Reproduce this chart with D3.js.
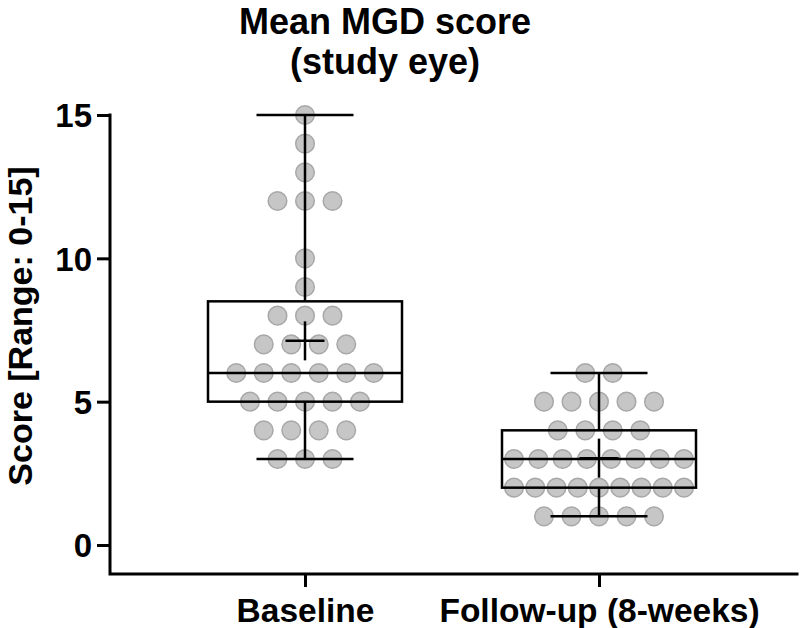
<!DOCTYPE html>
<html>
<head>
<meta charset="utf-8">
<script src="https://cdn.jsdelivr.net/npm/d3@7"></script>
<style>
  html, body { margin: 0; padding: 0; background: #fff; }
  svg text { font-family: "Liberation Sans", Arial, Helvetica, sans-serif; font-weight: bold; fill: #000; }
</style>
</head>
<body>
<svg id="chart" width="800" height="628"></svg>
<script>
// ---- data ----
const categories = ["Baseline", "Follow-up (8-weeks)"];
const baselineScores = [15, 14, 13, 12, 12, 12, 10, 9, 8, 8, 8, 7, 7, 7, 7,
                        6, 6, 6, 6, 6, 6, 5, 5, 5, 5, 5, 4, 4, 4, 4, 3, 3, 3];
const followupScores = [6, 6, 5, 5, 5, 5, 5, 4, 4, 4, 4, 3, 3, 3, 3, 3, 3, 3, 3,
                        2, 2, 2, 2, 2, 2, 2, 2, 2, 1, 1, 1, 1, 1];
const boxQ1 = [5, 2];
const boxMedian = [6, 3];
const boxQ3 = [8.5, 4];
const whiskerMin = [3, 1];
const whiskerMax = [15, 6];
const yTicks = [0, 5, 10, 15];
const titleLines = ["Mean MGD score", "(study eye)"];
const yLabel = "Score [Range: 0-15]";

const groups = [baselineScores, followupScores];

// ---- layout ----
const svg = d3.select("#chart");
const axisLeftX = 110, axisBottomY = 574, axisRightX = 797;

const y = d3.scaleLinear().domain([0, 15]).range([545, 115]);
const x = d3.scalePoint().domain(categories).range([305, 599]);

const boxHalf = 97, capHalf = 48.5, plusHalf = 19.5;
const dotR = 9.3, dotStep = 27.5, maxRowSpan = 170;

// ---- dots ----
const dots = [];
groups.forEach((vals, gi) => {
  const rows = d3.group(vals, v => v);
  rows.forEach((arr, v) => {
    const n = arr.length;
    const s = n > 1 ? Math.min(dotStep, maxRowSpan / (n - 1)) : 0;
    arr.forEach((_, i) => dots.push({ cat: categories[gi], v, off: (i - (n - 1) / 2) * s }));
  });
});

svg.append("g").selectAll("circle").data(dots).join("circle")
  .attr("cx", d => x(d.cat) + d.off)
  .attr("cy", d => y(d.v))
  .attr("r", dotR)
  .attr("fill", "#c6c6c6")
  .attr("stroke", "#a8a8a8")
  .attr("stroke-width", 1.5);

// ---- box plots ----
const gBox = svg.append("g").attr("stroke", "#000").attr("fill", "none").attr("stroke-width", 2.5);
categories.forEach((c, i) => {
  const cx = x(c);
  gBox.append("rect")
    .attr("x", cx - boxHalf).attr("y", y(boxQ3[i]))
    .attr("width", 2 * boxHalf).attr("height", y(boxQ1[i]) - y(boxQ3[i]));
  gBox.append("line").attr("x1", cx - boxHalf).attr("x2", cx + boxHalf)
    .attr("y1", y(boxMedian[i])).attr("y2", y(boxMedian[i]));
  // whiskers
  gBox.append("line").attr("x1", cx).attr("x2", cx).attr("y1", y(boxQ3[i])).attr("y2", y(whiskerMax[i]));
  gBox.append("line").attr("x1", cx).attr("x2", cx).attr("y1", y(boxQ1[i])).attr("y2", y(whiskerMin[i]));
  gBox.append("line").attr("x1", cx - capHalf).attr("x2", cx + capHalf).attr("y1", y(whiskerMax[i])).attr("y2", y(whiskerMax[i]));
  gBox.append("line").attr("x1", cx - capHalf).attr("x2", cx + capHalf).attr("y1", y(whiskerMin[i])).attr("y2", y(whiskerMin[i]));
  // mean "+"
  const m = d3.mean(groups[i]);
  gBox.append("line").attr("x1", cx - plusHalf).attr("x2", cx + plusHalf).attr("y1", y(m)).attr("y2", y(m));
  gBox.append("line").attr("x1", cx).attr("x2", cx).attr("y1", y(m) - plusHalf).attr("y2", y(m) + plusHalf);
});

// ---- axes ----
const yAxis = svg.append("g").attr("transform", `translate(${axisLeftX},0)`)
  .call(d3.axisLeft(y).tickValues(yTicks).tickSize(13).tickPadding(5).tickSizeOuter(0));
yAxis.select(".domain").remove();
yAxis.selectAll(".tick line").attr("stroke", "#000").attr("stroke-width", 3);
yAxis.selectAll(".tick text").attr("font-size", 33).attr("dy", "0.36em")
  .style("font-family", '"Liberation Sans", Arial, sans-serif').style("font-weight", "bold");

const xAxis = svg.append("g").attr("transform", `translate(0,${axisBottomY})`)
  .call(d3.axisBottom(x).tickSize(13).tickPadding(11).tickSizeOuter(0));
xAxis.select(".domain").remove();
xAxis.selectAll(".tick line").attr("stroke", "#000").attr("stroke-width", 3);
xAxis.selectAll(".tick text").attr("font-size", 33.5)
  .style("font-family", '"Liberation Sans", Arial, sans-serif').style("font-weight", "bold");

svg.append("path")
  .attr("d", `M${axisLeftX},${y(15)}V${axisBottomY}H${axisRightX}`)
  .attr("fill", "none").attr("stroke", "#000").attr("stroke-width", 3).attr("stroke-linecap", "square");

// ---- title ----
svg.append("text").attr("x", 385).attr("y", 34).attr("text-anchor", "middle")
  .attr("font-size", 36)
  .selectAll("tspan").data(titleLines).join("tspan")
  .attr("x", 385).attr("dy", (d, i) => i === 0 ? 0 : 40).text(d => d);

// ---- y label ----
svg.append("text").attr("transform", "translate(32,326) rotate(-90)")
  .attr("text-anchor", "middle").attr("font-size", 34).text(yLabel);
</script>
</body>
</html>
